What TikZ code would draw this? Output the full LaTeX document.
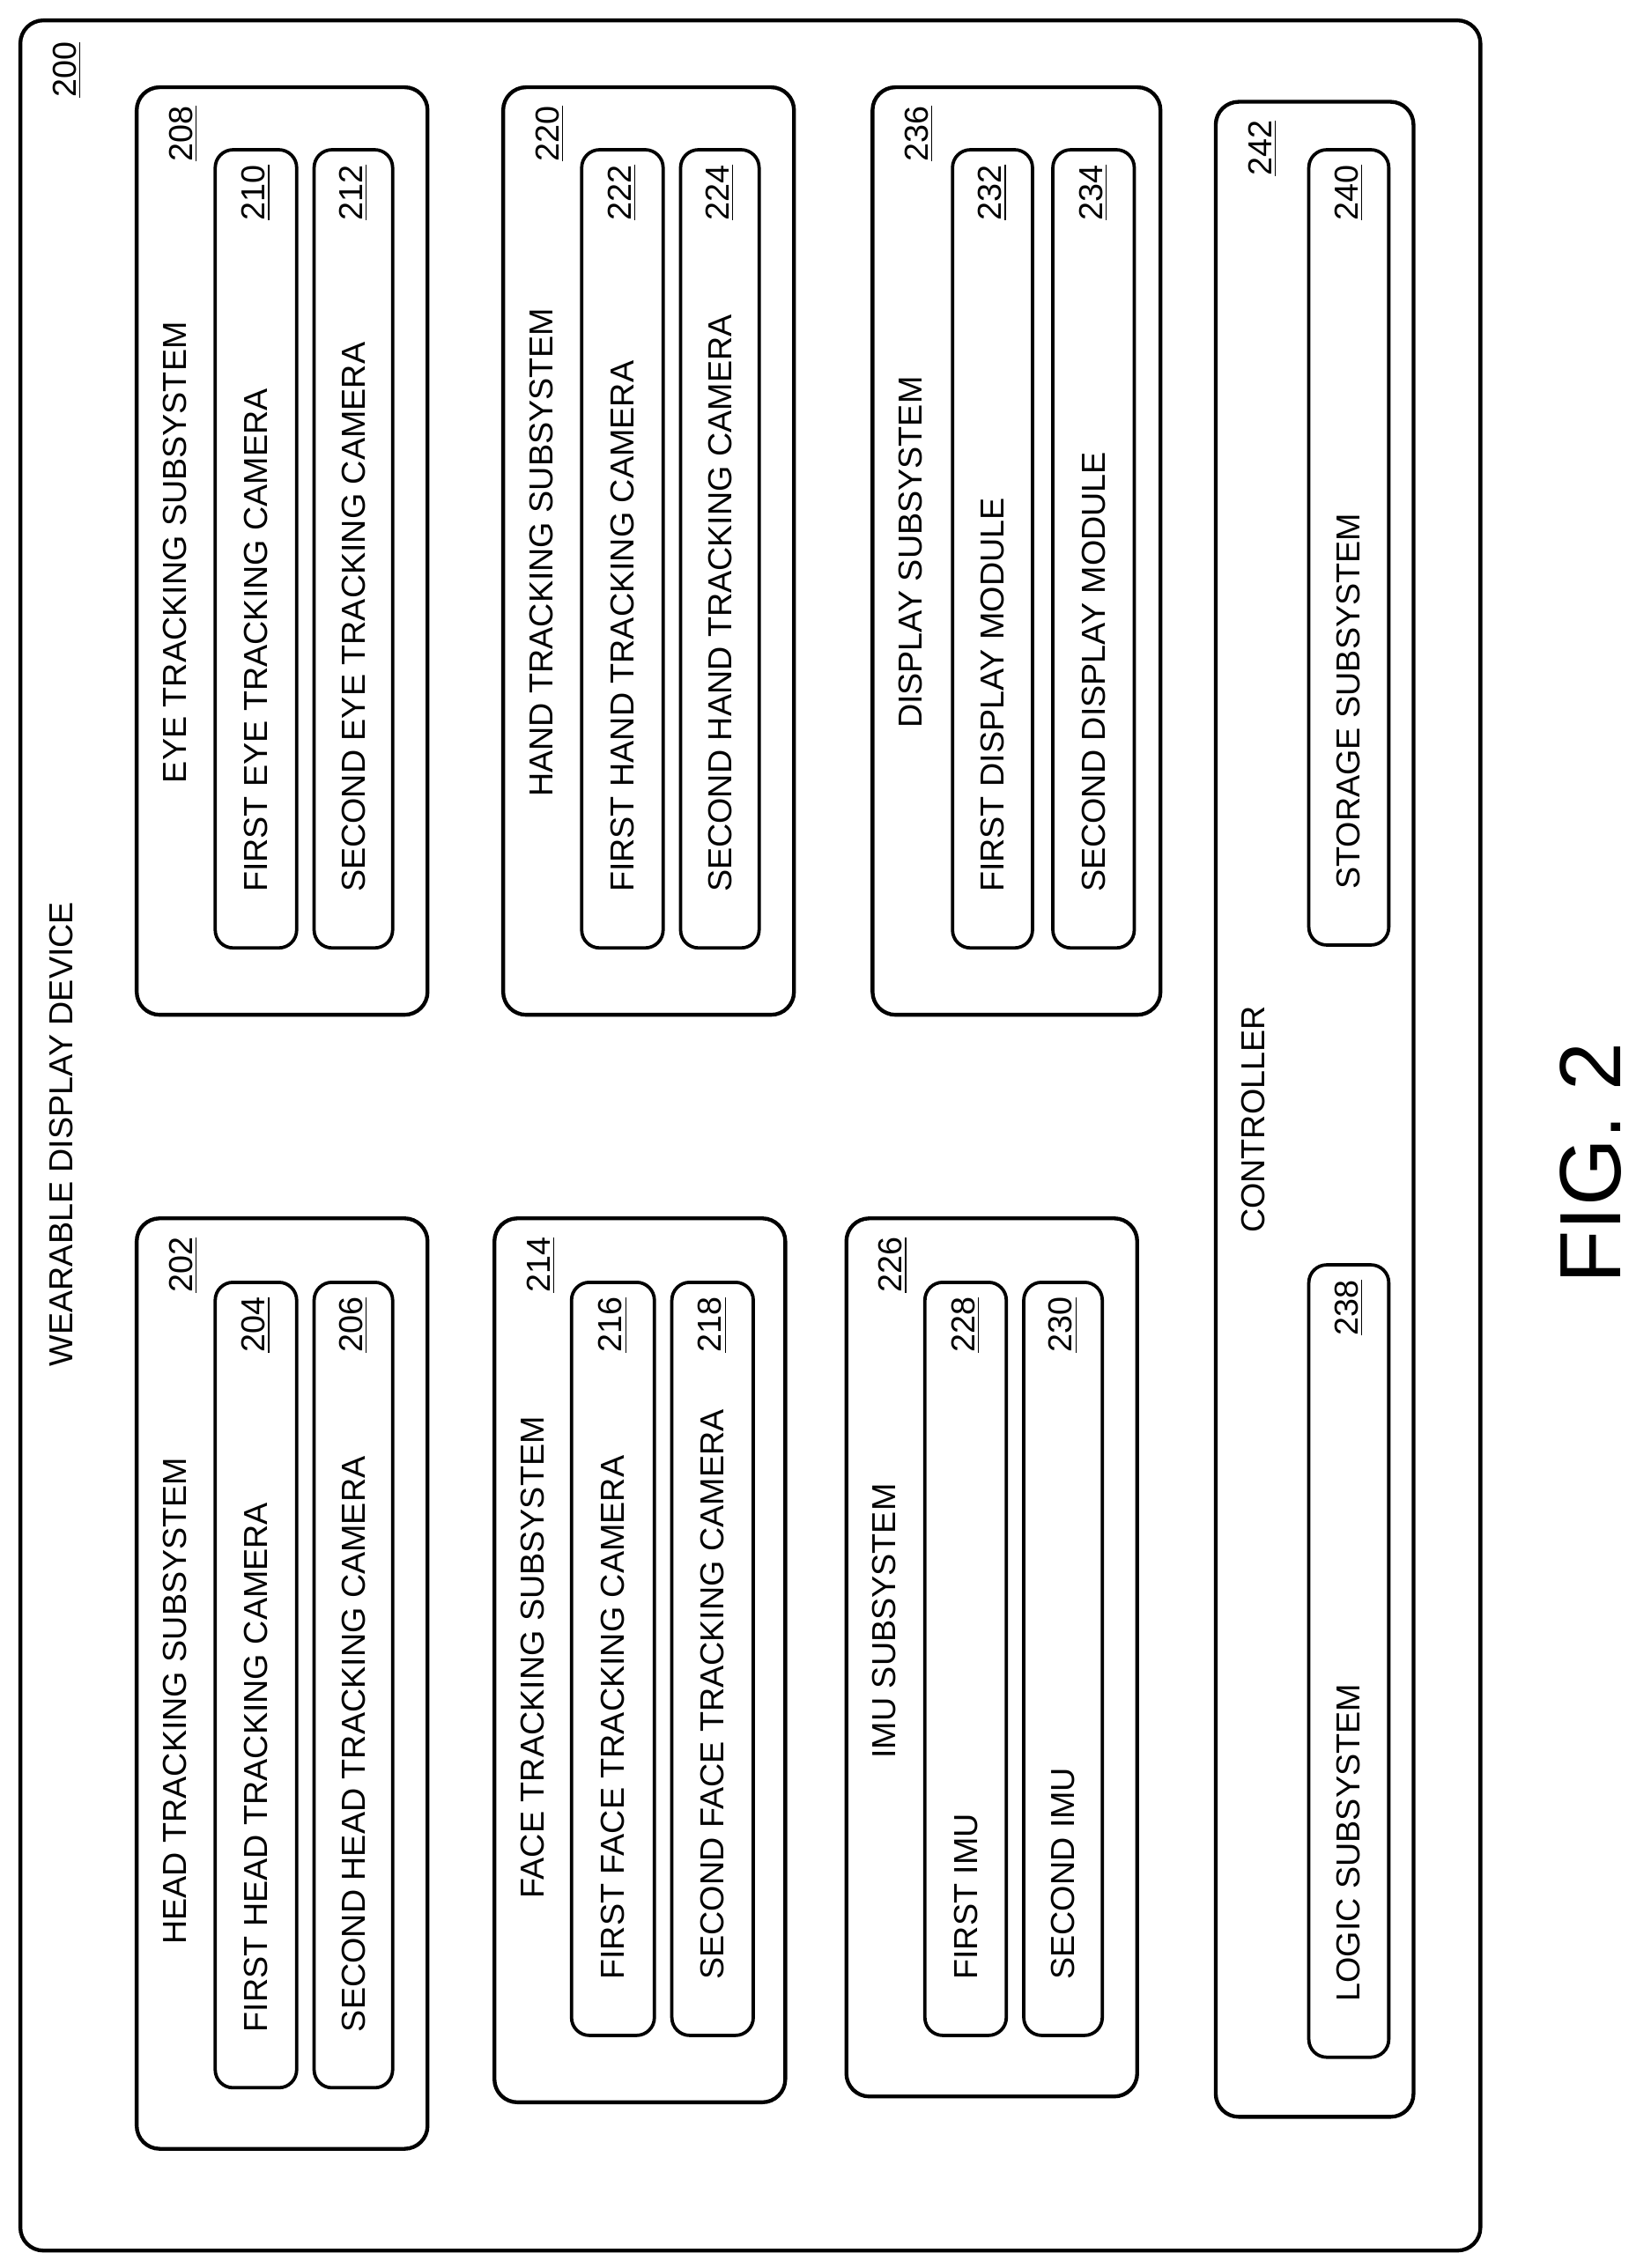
\documentclass[tikz,border=0pt]{standalone}
\usepackage{fontspec}
\setmainfont{Liberation Sans}
\begin{document}
\begin{tikzpicture}[
            x=0.02cm, y=0.02cm,
            box/.style={draw, line width=1.5pt, rounded corners=9pt},
            pill/.style={draw, line width=1.3pt, rounded corners=7pt},
            lbl/.style={rotate=90, inner sep=0pt, font=\fontsize{13}{15}\selectfont},
            num/.style={rotate=90, inner sep=0pt, font=\fontsize{13}{15}\selectfont}
        ]
           \useasboundingbox (0,0) rectangle (1135,-1560);
           \newcommand{\pill}[6]{%
               \draw[pill] (#1,-#2) rectangle (#3,-#4);
               \node[lbl, anchor=west] at ({(#1+#3)/2},-#4+38) {#5};
               \node[num, anchor=east] at ({(#1+#3)/2},-#2-10) {\underline{#6}};
           }
           \newcommand{\subsys}[7]{%
               \draw[box] (#1,-#2) rectangle (#3,-#4);
               \node[lbl] at (#1+26,-#6) {#5};
               \node[num] at (#1+32,-#2-32) {\underline{#7}};
           }

           % outer device
           \draw[box] (14,-14) rectangle (1018,-1548);
           \node[lbl] (dev) at (42,-780) {WEARABLE DISPLAY DEVICE};
           \node[num] (n200) at (46,-48) {\underline{200}};

           % left column
           \subsys{94}{838}{294}{1478}{HEAD TRACKING SUBSYSTEM}{1170}{202}
           \pill{148}{882}{204}{1436}{FIRST HEAD TRACKING CAMERA}{204}
           \pill{216}{882}{270}{1436}{SECOND HEAD TRACKING CAMERA}{206}

           \subsys{340}{838}{540}{1446}{FACE TRACKING SUBSYSTEM}{1140}{214}
           \pill{393}{882}{450}{1400}{FIRST FACE TRACKING CAMERA}{216}
           \pill{462}{882}{518}{1400}{SECOND FACE TRACKING CAMERA}{218}

           \subsys{582}{838}{782}{1442}{IMU SUBSYSTEM}{1115}{226}
           \pill{636}{882}{692}{1400}{FIRST IMU}{228}
           \pill{704}{882}{758}{1400}{SECOND IMU}{230}

           % right column
           \subsys{94}{60}{294}{698}{EYE TRACKING SUBSYSTEM}{380}{208}
           \pill{148}{103}{204}{652}{FIRST EYE TRACKING CAMERA}{210}
           \pill{216}{103}{270}{652}{SECOND EYE TRACKING CAMERA}{212}

           \subsys{346}{60}{546}{698}{HAND TRACKING SUBSYSTEM}{380}{220}
           \pill{400}{103}{456}{652}{FIRST HAND TRACKING CAMERA}{222}
           \pill{468}{103}{522}{652}{SECOND HAND TRACKING CAMERA}{224}

           \subsys{600}{60}{798}{698}{DISPLAY SUBSYSTEM}{380}{236}
           \pill{655}{103}{710}{652}{FIRST DISPLAY MODULE}{232}
           \pill{724}{103}{780}{652}{SECOND DISPLAY MODULE}{234}

           % controller
           \subsys{836}{70}{972}{1456}{CONTROLLER}{770}{242}
           \pill{900}{870}{955}{1415}{LOGIC SUBSYSTEM}{238}
           \pill{900}{103}{955}{650}{STORAGE SUBSYSTEM}{240}

           \node[rotate=90, inner sep=0pt, font=\fontsize{34}{38}\selectfont] (fig) at (1094,-800) {FIG. 2};
        \end{tikzpicture}
\end{document}
